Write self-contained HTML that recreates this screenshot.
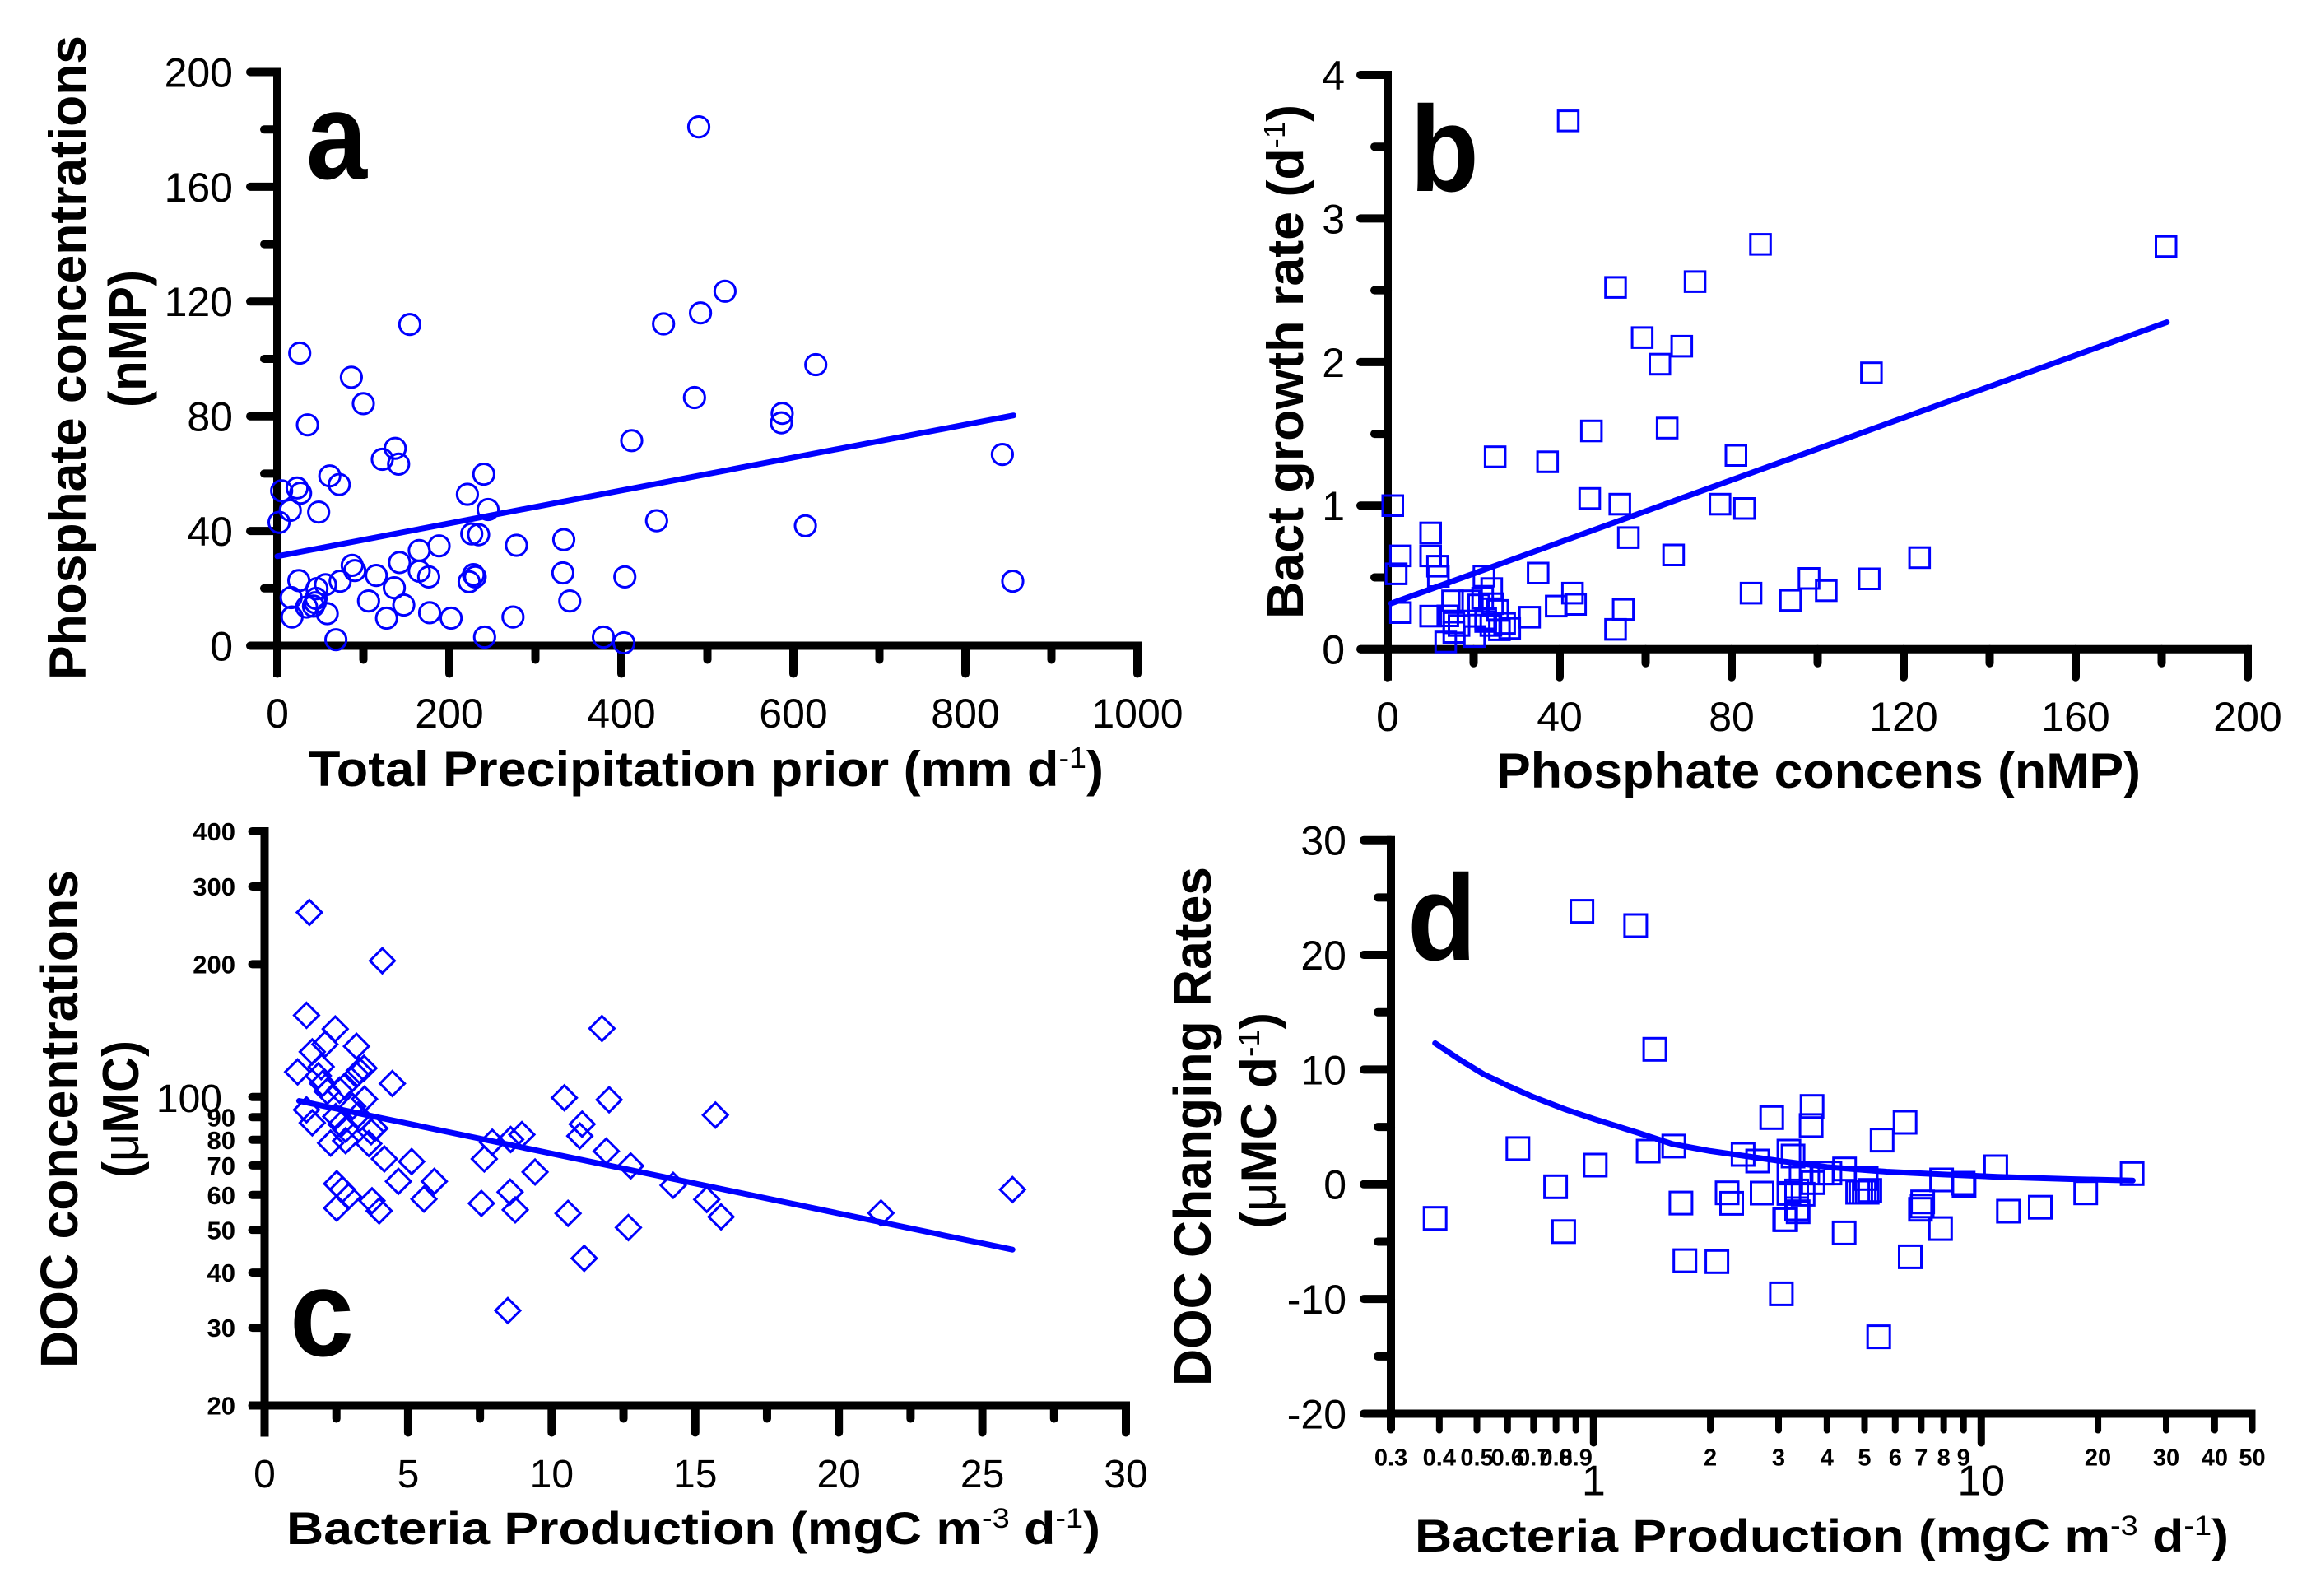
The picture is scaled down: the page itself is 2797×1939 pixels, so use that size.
<!DOCTYPE html>
<html lang="en">
<head>
<meta charset="utf-8">
<title>Phosphate, bacteria and DOC scatter panels</title>
<style>
html,body{margin:0;padding:0;background:#fff;}
svg{display:block;font-family:"Liberation Sans",Arial,sans-serif;}
.t{font-weight:bold;fill:#000;}
.s{font-weight:normal;}
</style>
</head>
<body>
<svg id="chart" xmlns="http://www.w3.org/2000/svg" width="2797" height="1939" viewBox="0 0 2797 1939">
<rect x="0" y="0" width="2797" height="1939" fill="#fff"/>

<g id="panel-a"></g>
<g id="panel-b"></g>
<g id="panel-c"></g>
<g id="panel-d"></g>

<text class="t" x="372" y="217" font-size="150" textLength="74" lengthAdjust="spacingAndGlyphs">a</text>
<text class="t" x="1713" y="232" font-size="148" textLength="84" lengthAdjust="spacingAndGlyphs">b</text>
<text class="t" x="352" y="1647" font-size="150" textLength="78" lengthAdjust="spacingAndGlyphs">c</text>
<text class="t" x="1710" y="1166" font-size="148" textLength="84" lengthAdjust="spacingAndGlyphs">d</text>

<text class="t" x="375" y="955" font-size="60" textLength="966" lengthAdjust="spacingAndGlyphs">Total Precipitation prior (mm d<tspan class="s" font-size="36" dy="-22">-1</tspan><tspan dy="22">)</tspan></text>
<text class="t" transform="translate(104,826) rotate(-90)" font-size="63" textLength="783" lengthAdjust="spacingAndGlyphs">Phosphate concentrations</text>
<text class="t" transform="translate(177,495) rotate(-90)" font-size="64" textLength="167" lengthAdjust="spacingAndGlyphs">(nMP)</text>

<text class="t" x="1818" y="957" font-size="60" textLength="783" lengthAdjust="spacingAndGlyphs">Phosphate concens (nMP)</text>
<text class="t" transform="translate(1583,752) rotate(-90)" font-size="62" textLength="625" lengthAdjust="spacingAndGlyphs">Bact growth rate (d<tspan class="s" font-size="36" dy="-22">-1</tspan><tspan dy="22">)</tspan></text>

<text class="t" x="348" y="1876" font-size="56" textLength="989" lengthAdjust="spacingAndGlyphs">Bacteria Production (mgC m<tspan class="s" font-size="34" dy="-20">-3</tspan><tspan dy="20"> d</tspan><tspan class="s" font-size="34" dy="-20">-1</tspan><tspan dy="20">)</tspan></text>
<text class="t" transform="translate(94,1662) rotate(-90)" font-size="64" textLength="605" lengthAdjust="spacingAndGlyphs">DOC concentrations</text>
<text class="t" transform="translate(168,1431) rotate(-90)" font-size="62" textLength="167" lengthAdjust="spacingAndGlyphs">(<tspan class="s">μ</tspan>MC)</text>

<text class="t" x="1719" y="1885" font-size="56" textLength="989" lengthAdjust="spacingAndGlyphs">Bacteria Production (mgC m<tspan class="s" font-size="34" dy="-20">-3</tspan><tspan dy="20"> d</tspan><tspan class="s" font-size="34" dy="-20">-1</tspan><tspan dy="20">)</tspan></text>
<text class="t" transform="translate(1471,1684) rotate(-90)" font-size="64" textLength="631" lengthAdjust="spacingAndGlyphs">DOC Changing Rates</text>
<text class="t" transform="translate(1550,1493) rotate(-90)" font-size="60" textLength="263" lengthAdjust="spacingAndGlyphs">(<tspan class="s">μ</tspan>MC d<tspan class="s" font-size="36" dy="-20">-1</tspan><tspan dy="20">)</tspan></text>
</svg>

<script>
// ---------- Panel a data ----------
var aPrecip = [490,520.5,492,449,154,26,626,86,100,35,485,587,586,412,137,122,141,843,240,61,72,23,27,5,15,48,2,221,245,226,234,441,614,333,278,188,165,142,87,90,165,176,115,332,404,855,228,230,223,25,73,56,46,136,16,147,340,106,45,44,34,42,58,17,177,127,202,274,241,379,403,68];
var aPhosphate = [180.9,123.6,116,112.2,112,102,98,93.6,84.4,77,86.5,81,77.7,71.5,68.8,65,63.3,66.7,59.8,59.2,56.2,55,53.2,54,47.2,46.6,43,52.8,47.5,39,38.7,43.6,41.8,37,35,34.8,33.2,29,28,26.2,26,24,24.5,25.4,24,22.5,24.8,24,22.3,22.7,22.5,21.3,19.9,20.2,16.8,14.2,15.6,15.6,16.5,15,13.5,13.8,11.2,10,11.5,9.6,9.6,10,3,3,1,2.1];
var aFitX = [0,856];
var aFitY = [31.2,80.3];
var aXMajor = [0,200,400,600,800,1000];
var aXMinor = [100,300,500,700,900];
var aYMajor = [0,40,80,120,160,200];
var aYMinor = [20,60,100,140,180];

// ---------- Panel b data ----------
var bPhosphate = [42,86.7,181,71.5,53,59.2,68.4,63.3,112.5,47.4,65,81,25,37.2,47,54,1.2,77.3,83,56,10,66.5,3,10,11.6,11.8,2,35,123.7,98,112,102,84.5,93.7,22.4,24.2,43,43.7,39.2,54.8,53,33,3,10,15.1,14,15.4,16.6,15.4,13.5,20.2,19,22.1,21.2,24.4,25.6,22.8,22.8,27.2,24,26,28.4];
var bGrowth = [3.68,2.82,2.805,2.56,2.52,2.17,2.11,1.985,1.925,1.52,1.54,1.35,1.34,1.305,1.05,1.01,1,1.01,0.98,0.777,0.81,0.656,0.65,0.65,0.578,0.507,0.525,0.53,0.638,0.493,0.49,0.408,0.39,0.34,0.509,0.422,0.39,0.312,0.3,0.277,0.138,0.223,0.255,0.23,0.337,0.232,0.184,0.165,0.117,0.05,0.088,0.337,0.355,0.308,0.317,0.27,0.212,0.193,0.18,0.165,0.135,0.145];
var bFitX = [0.85,181.2];
var bFitY = [0.319,2.277];
var bXMajor = [0,40,80,120,160,200];
var bXMinor = [20,60,100,140,180];
var bYMajor = [0,1,2,3,4];
var bYMinor = [0.5,1.5,2.5,3.5];

// ---------- Panel c data ----------
var cProduction = [1.56,4.1,1.46,11.75,2.46,3.2,2.1,1.66,1.97,1.15,3.46,3.3,3.2,1.87,2.02,4.45,2.18,2.61,2.8,10.44,12,3.48,15.7,3.07,1.46,3.25,1.66,2.48,2.66,11.06,10.98,8.96,8.57,7.93,3.84,3.71,2.82,2.82,2.3,3.63,11.9,4.17,7.65,12.75,5.12,9.42,5.91,4.66,2.51,14.23,2.71,2.92,8.55,26.05,5.55,15.4,7.55,3.74,2.51,3.99,8.73,10.57,21.47,15.9,12.67,11.13,8.47];
var cDoc = [262,203.6,153.2,143,142.6,130.3,131.7,126.6,117.1,114,116.2,114.7,112.3,111.7,107.3,107.3,103,103.6,105.9,99.6,98.6,98.9,91,95.2,93.5,91,87.4,90.3,86.8,86.8,81.6,82.2,80.1,79,84.9,83.4,84.5,79.6,78.6,78.4,75.4,72.4,72.4,69.8,71.4,67.6,64.4,64.4,63.6,63.1,61.7,59.5,60.9,61.7,58.7,58.6,57.4,58.2,56,55.2,55.5,54.5,54.6,53.5,50.6,43.1,32.8];
var cFitX = [1.2,26.05];
var cFitY = [98,45.1];
var cXMajor = [0,5,10,15,20,25,30];
var cXMinor = [2.5,7.5,12.5,17.5,22.5,27.5];
var cYTicks = [20,30,40,50,60,70,80,90,100,200,300,400];
var cYLabelsBig = [100];

// ---------- Panel d data ----------
var dProduction = [0.933,1.284,1.438,0.39,0.638,0.798,1.01,0.837,1.383,1.61,1.68,1.72,2.08,2.21,2.27,2.43,2.65,2.72,2.88,3.19,3.27,3.13,3.05,3.66,3.64,3.37,6.36,5.55,10.9,7.9,8.98,3.19,3.43,3.19,3.34,3.47,3.68,3.88,4.07,4.44,5.05,4.8,4.89,4.99,5.08,5.16,3.34,3.11,4.43,7.06,6.97,7.04,7.85,6.56,11.75,5.44,14.2,18.6,24.5,9.03];
var dRate = [23.8,22.55,11.77,-2.97,3.11,-0.22,1.67,-4.13,2.89,3.33,-1.64,-6.66,-6.75,-0.75,-1.66,2.6,2.03,-0.77,5.81,2.89,2.46,-3.09,-9.55,6.79,5.12,-2.4,5.4,3.85,1.53,0.38,0.09,0.98,0.98,-0.8,-0.58,-0.87,0.14,0.98,0.98,1.33,0.5,-0.7,-0.7,-0.7,-0.7,-0.53,-2.13,-3.09,-4.24,-1.54,-2.18,-1.9,-3.86,-6.32,-2.35,-13.3,-2,-0.75,0.93,-0.09];
var dFitX = [0.39,0.45,0.52,0.6,0.7,0.85,1,1.3,1.6,2,3,4,5.7,8,11,17,24.6];
var dFitY = [12.3,10.9,9.6,8.6,7.6,6.5,5.7,4.5,3.5,2.9,2.05,1.5,1.1,0.85,0.65,0.45,0.33];
var dXMajor = [1,10];
var dXMinor = [0.3,0.4,0.5,0.6,0.7,0.8,0.9,2,3,4,5,6,7,8,9,20,30,40,50];
var dYMajor = [-20,-10,0,10,20,30];
var dYMinor = [-15,-5,5,15,25];

// ---------- Axis functions ----------
function linear(d0,d1,p0,p1){return function(v){return p0+(v-d0)*(p1-p0)/(d1-d0);};}
function logScale(d0,d1,p0,p1){return function(v){return p0+(Math.log10(v)-Math.log10(d0))*(p1-p0)/(Math.log10(d1)-Math.log10(d0));};}

var aSX = linear(0,1000,337,1382), aSY = linear(0,200,784.5,87.5);
var bSX = linear(0,200,1686,2731), bSY = linear(0,4,788.7,91);
var cSX = linear(0,30,321.5,1368), cSY = logScale(20,400,1707.5,1010);
var dSX = logScale(0.3,50,1690,2736.5), dSY = linear(-20,30,1717.5,1020.7);

var NS = 'http://www.w3.org/2000/svg';
var BLACK = '#000', BLUE = '#0000ff';

function seg(parent,name,x1,y1,x2,y2,w,color,cap){
  var el = document.createElementNS(NS,'line');
  
  
  el.setAttribute('x1',x1); el.setAttribute('y1',y1);
  el.setAttribute('x2',x2); el.setAttribute('y2',y2);
  el.setAttribute('stroke',color); el.setAttribute('stroke-width',w);
  el.setAttribute('stroke-linecap',cap||'butt');
  parent.appendChild(el);
}
function label(parent,name,x,y,txt,size,anchor,bold){
  var el = document.createElementNS(NS,'text');
  
  
  el.setAttribute('x',x);
  el.setAttribute('y',y+size*0.358);
  el.setAttribute('font-size',size);
  el.setAttribute('text-anchor',anchor);
  el.setAttribute('fill',BLACK);
  if(bold) el.setAttribute('font-weight','bold');
  el.textContent = txt;
  parent.appendChild(el);
}
function fitLine(parent,name,xs,ys,sx,sy){
  var el = document.createElementNS(NS,'polyline');
  
  
  var pts = xs.map(function(x,i){return sx(x).toFixed(1)+','+sy(ys[i]).toFixed(1);}).join(' ');
  el.setAttribute('points',pts);
  el.setAttribute('fill','none');
  el.setAttribute('stroke',BLUE);
  el.setAttribute('stroke-width',7);
  el.setAttribute('stroke-linecap','round');
  el.setAttribute('stroke-linejoin','round');
  parent.appendChild(el);
}
function circles(parent,name,xs,ys,sx,sy){
  xs.forEach(function(x,i){
    var el = document.createElementNS(NS,'circle');
    
    
    el.setAttribute('cx',sx(x).toFixed(1));
    el.setAttribute('cy',sy(ys[i]).toFixed(1));
    el.setAttribute('r',12.6);
    el.setAttribute('fill','none');
    el.setAttribute('stroke',BLUE);
    el.setAttribute('stroke-width',3);
    parent.appendChild(el);
  });
}
function squares(parent,name,xs,ys,sx,sy,side){
  xs.forEach(function(x,i){
    var el = document.createElementNS(NS,'rect');
    
    
    el.setAttribute('x',(sx(x)-side/2).toFixed(1));
    el.setAttribute('y',(sy(ys[i])-side/2).toFixed(1));
    el.setAttribute('width',side);
    el.setAttribute('height',side);
    el.setAttribute('fill','none');
    el.setAttribute('stroke',BLUE);
    el.setAttribute('stroke-width',3);
    parent.appendChild(el);
  });
}
function diamonds(parent,name,xs,ys,sx,sy){
  var r = 15;
  xs.forEach(function(x,i){
    var cx = sx(x), cy = sy(ys[i]);
    var el = document.createElementNS(NS,'polygon');
    
    
    el.setAttribute('points',[[cx,cy-r],[cx+r,cy],[cx,cy+r],[cx-r,cy]].map(function(p){return p[0].toFixed(1)+','+p[1].toFixed(1);}).join(' '));
    el.setAttribute('fill','none');
    el.setAttribute('stroke',BLUE);
    el.setAttribute('stroke-width',3);
    parent.appendChild(el);
  });
}
function xTicks(parent,name,vals,sx,axisY,len,w){
  vals.forEach(function(v){
    seg(parent,name,sx(v),axisY,sx(v),axisY+len-w/2,w,BLACK,'round');
  });
}
function yTicks(parent,name,vals,sy,axisX,len,w){
  vals.forEach(function(v){
    seg(parent,name,axisX,sy(v),axisX-len+w/2,sy(v),w,BLACK,'round');
  });
}

// ---------- Panel a ----------
(function(){
  var g = document.getElementById('panel-a');
  xTicks(g,'x-major-tick',aXMajor,aSX,aSY(0),39,10);
  xTicks(g,'x-minor-tick',aXMinor,aSX,aSY(0),22,10);
  yTicks(g,'y-major-tick',aYMajor,aSY,aSX(0),38,10);
  yTicks(g,'y-minor-tick',aYMinor,aSY,aSX(0),21,10);
  seg(g,'y-axis-line',aSX(0),aSY(200)-5,aSX(0),aSY(0)+38,10,BLACK);
  seg(g,'x-axis-line',aSX(0)-33,aSY(0),aSX(1000)+5,aSY(0),10,BLACK);
  aXMajor.forEach(function(v){label(g,'x-tick-label',aSX(v),866,String(v),50,'middle');});
  aYMajor.forEach(function(v){label(g,'y-tick-label',283,aSY(v),String(v),50,'end');});
  circles(g,'precip-phosphate-point',aPrecip,aPhosphate,aSX,aSY);
  fitLine(g,'regression-line',aFitX,aFitY,aSX,aSY);
})();

// ---------- Panel b ----------
(function(){
  var g = document.getElementById('panel-b');
  xTicks(g,'x-major-tick',bXMajor,bSX,bSY(0),39,10);
  xTicks(g,'x-minor-tick',bXMinor,bSX,bSY(0),22,10);
  yTicks(g,'y-major-tick',bYMajor,bSY,bSX(0),38,10);
  yTicks(g,'y-minor-tick',bYMinor,bSY,bSX(0),21,10);
  seg(g,'y-axis-line',bSX(0),bSY(4)-5,bSX(0),bSY(0)+38,10,BLACK);
  seg(g,'x-axis-line',bSX(0)-33,bSY(0),bSX(200)+5,bSY(0),10,BLACK);
  bXMajor.forEach(function(v){label(g,'x-tick-label',bSX(v),870,String(v),50,'middle');});
  bYMajor.forEach(function(v){label(g,'y-tick-label',1634,bSY(v),String(v),50,'end');});
  squares(g,'phosphate-growth-point',bPhosphate,bGrowth,bSX,bSY,24.5);
  fitLine(g,'regression-line',bFitX,bFitY,bSX,bSY);
})();

// ---------- Panel c ----------
(function(){
  var g = document.getElementById('panel-c');
  xTicks(g,'x-major-tick',cXMajor,cSX,cSY(20),38,10);
  xTicks(g,'x-minor-tick',cXMinor,cSX,cSY(20),21,10);
  yTicks(g,'y-tick',cYTicks,cSY,cSX(0),20,10);
  seg(g,'y-axis-line',cSX(0),cSY(400)-5,cSX(0),cSY(20)+38,10,BLACK);
  seg(g,'x-axis-line',cSX(0)-19,cSY(20),cSX(30)+5,cSY(20),10,BLACK);
  cXMajor.forEach(function(v){label(g,'x-tick-label',cSX(v),1790,String(v),48,'middle');});
  cYTicks.forEach(function(v){
    if(cYLabelsBig.indexOf(v)>=0){label(g,'y-tick-label-large',270,cSY(v)+1,String(v),48,'end');}
    else{label(g,'y-tick-label',286,cSY(v),String(v),31,'end',true);}
  });
  diamonds(g,'production-doc-point',cProduction,cDoc,cSX,cSY);
  fitLine(g,'regression-line',cFitX,cFitY,cSX,cSY);
})();

// ---------- Panel d ----------
(function(){
  var g = document.getElementById('panel-d');
  xTicks(g,'x-major-tick',dXMajor,dSX,dSY(-20),40,9);
  xTicks(g,'x-minor-tick',dXMinor,dSX,dSY(-20),24,8);
  yTicks(g,'y-major-tick',dYMajor,dSY,dSX(0.3),38,10);
  yTicks(g,'y-minor-tick',dYMinor,dSY,dSX(0.3),21,10);
  seg(g,'y-axis-line',dSX(0.3),dSY(30)-5,dSX(0.3),dSY(-20)+20,10,BLACK);
  seg(g,'x-axis-line',dSX(0.3)-33,dSY(-20),dSX(50)+4,dSY(-20),10,BLACK);
  dXMajor.forEach(function(v){label(g,'x-tick-label-large',dSX(v),1798,String(v),52,'middle');});
  dXMinor.forEach(function(v){label(g,'x-tick-label',dSX(v),1770,String(v),29,'middle',true);});
  dYMajor.forEach(function(v){label(g,'y-tick-label',1636,dSY(v),String(v),50,'end');});
  squares(g,'production-rate-point',dProduction,dRate,dSX,dSY,27);
  fitLine(g,'regression-curve',dFitX,dFitY,dSX,dSY);
})();
</script>
</body>
</html>
